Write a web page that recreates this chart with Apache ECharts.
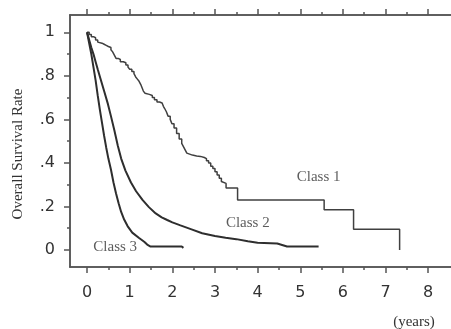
<!DOCTYPE html>
<html>
<head>
<meta charset="utf-8">
<script src="https://cdn.jsdelivr.net/npm/echarts@6/dist/echarts.min.js"></script>
<style>
  html,body{margin:0;padding:0;background:#fff;}
  #chart{width:451px;height:329px;}
</style>
</head>
<body>
<div id="chart"></div>
<script>
// Kaplan-Meier curves, [years, survival]
const class1 = [[0,1],[0.05,0.99],[0.1,0.98],[0.15,0.975],[0.2,0.965],[0.25,0.955],[0.29,0.95],[0.35,0.945],[0.4,0.94],[0.45,0.935],[0.5,0.93],[0.56,0.92],[0.6,0.91],[0.64,0.895],[0.68,0.88],[0.73,0.875],[0.78,0.865],[0.85,0.86],[0.91,0.85],[0.96,0.84],[1.0,0.83],[1.05,0.82],[1.1,0.81],[1.14,0.795],[1.18,0.785],[1.22,0.775],[1.26,0.76],[1.29,0.745],[1.32,0.73],[1.36,0.72],[1.4,0.715],[1.46,0.71],[1.53,0.7],[1.58,0.69],[1.64,0.68],[1.7,0.675],[1.76,0.67],[1.79,0.66],[1.82,0.65],[1.86,0.635],[1.9,0.615],[1.95,0.6],[1.99,0.58],[2.04,0.56],[2.1,0.535],[2.16,0.51],[2.22,0.49],[2.26,0.475],[2.3,0.46],[2.34,0.445],[2.38,0.436],[2.47,0.432],[2.57,0.43],[2.66,0.425],[2.75,0.42],[2.8,0.41],[2.85,0.4],[2.9,0.385],[2.95,0.375],[3.0,0.36],[3.05,0.345],[3.1,0.33],[3.15,0.315],[3.19,0.306],[3.26,0.285],[3.53,0.23],[5.56,0.185],[6.25,0.095],[7.33,0]];
const class2 = [[0,1],[0.05,0.965],[0.1,0.93],[0.15,0.9],[0.2,0.865],[0.25,0.83],[0.31,0.79],[0.4,0.73],[0.49,0.67],[0.56,0.615],[0.64,0.55],[0.72,0.48],[0.8,0.42],[0.9,0.365],[1.03,0.31],[1.15,0.27],[1.3,0.23],[1.45,0.197],[1.61,0.168],[1.75,0.15],[1.88,0.138],[2.0,0.127],[2.19,0.113],[2.45,0.095],[2.7,0.077],[3.0,0.064],[3.25,0.056],[3.5,0.05],[3.77,0.04],[4.0,0.033],[4.46,0.03],[4.69,0.016],[5.43,0.016]];
const class3 = [[0,1],[0.05,0.95],[0.1,0.9],[0.15,0.84],[0.2,0.78],[0.25,0.71],[0.3,0.645],[0.35,0.585],[0.4,0.525],[0.45,0.47],[0.5,0.42],[0.56,0.37],[0.62,0.31],[0.68,0.26],[0.74,0.215],[0.8,0.175],[0.87,0.14],[0.95,0.11],[1.06,0.08],[1.22,0.055],[1.34,0.038],[1.41,0.025],[1.49,0.016],[2.22,0.016],[2.26,0.01]];

// class labels placed in data coordinates
const classLabels = [['Class 1',5.43,0.335],['Class 2',3.77,0.124],['Class 3',0.66,0.014]];

const xMajor = [0,1,2,3,4,5,6,7,8];
const xMinor = [0.5,1.5,2.5,3.5,4.5,5.5,6.5,7.5];
const yMajor = [0,0.2,0.4,0.6,0.8,1];
const yMajorText = ['0','.2','.4','.6','.8','1'];
const yMinor = [0.1,0.3,0.5,0.7,0.9];

const X_MIN=-0.4, X_MAX=8.535, Y_MIN=-0.078, Y_MAX=1.0795;
const lineCol='#555';
const serif='"Liberation Serif","DejaVu Serif",serif';

function xAx(pos,ticks,len,labels){
    return {
        type:'value',position:pos,min:X_MIN,max:X_MAX,
        splitLine:{show:false},
        axisLine:{show:true,onZero:false,lineStyle:{color:lineCol,width:1.5}},
        axisTick:{show:true,customValues:ticks,length:len,lineStyle:{color:lineCol,width:1.5}},
        axisLabel:labels?{show:true,customValues:xMajor,margin:18,color:'#333',fontSize:16,fontFamily:'DejaVu Sans'}:{show:false}
    };
}
function yAx(ticks,len,labels){
    return {
        type:'value',position:'left',min:Y_MIN,max:Y_MAX,
        splitLine:{show:false},
        axisLine:{show:true,onZero:false,lineStyle:{color:lineCol,width:1.5}},
        axisTick:{show:true,customValues:ticks,length:len,lineStyle:{color:lineCol,width:1.5}},
        axisLabel:labels?{show:true,customValues:yMajor,margin:15,color:'#333',fontSize:16,fontFamily:'DejaVu Sans',
            formatter:v=>yMajorText[yMajor.findIndex(a=>Math.abs(a-v)<1e-6)]}:{show:false}
    };
}

const chart=echarts.init(document.getElementById('chart'));
const option={
    animation:false,
    backgroundColor:'#fff',
    grid:{left:70,right:-5,top:15,bottom:62},
    xAxis:[xAx('bottom',xMajor,6,true),xAx('bottom',xMinor,3,false),xAx('top',xMajor,6,false),xAx('top',xMinor,3,false)],
    yAxis:[yAx(yMajor,6,true),yAx(yMinor,3,false)],
    graphic:[
        {type:'text',x:18,y:154,rotation:Math.PI/2,style:{text:'Overall Survival Rate',font:'15px '+serif,fill:'#333',align:'center',verticalAlign:'middle'}},
        {type:'text',x:414,y:322,style:{text:'(years)',font:'15px '+serif,fill:'#333',align:'center',verticalAlign:'middle'}}
    ],
    series:[
        {type:'line',step:'end',data:class1,symbol:'none',lineStyle:{color:'#404040',width:1.5}},
        {type:'line',data:class2,symbol:'none',lineStyle:{color:'#2e2e2e',width:2}},
        {type:'line',data:class3,symbol:'none',lineStyle:{color:'#2e2e2e',width:2}},
        {type:'scatter',symbolSize:0,data:classLabels.map(d=>({name:d[0],value:[d[1],d[2]]})),
            label:{show:true,position:'inside',formatter:p=>p.name,color:'#333',fontSize:15,fontFamily:serif}}
    ]
};
chart.setOption(option);
</script>
</body>
</html>
